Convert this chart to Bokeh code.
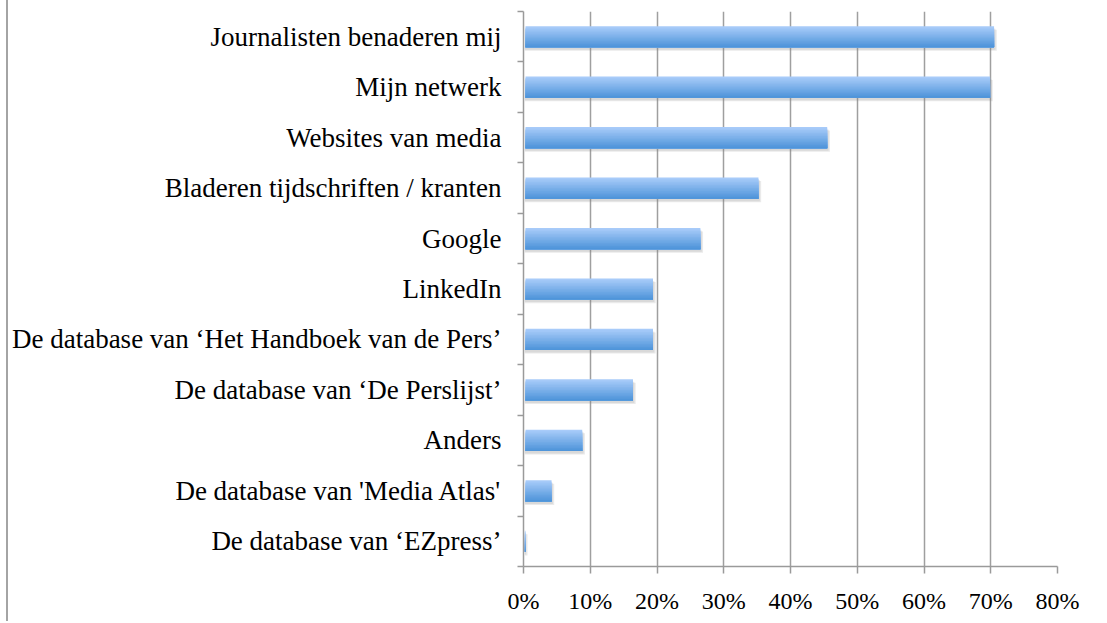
from bokeh.plotting import figure
from bokeh.models import ColumnDataSource, Range1d, FixedTicker, NumeralTickFormatter
from bokeh.embed import file_html
from bokeh.resources import INLINE

# Data (top to bottom as in the chart)
categories = [
    "Journalisten benaderen mij",
    "Mijn netwerk",
    "Websites van media",
    "Bladeren tijdschriften / kranten",
    "Google",
    "LinkedIn",
    "De database van \u2018Het Handboek van de Pers\u2019",
    "De database van \u2018De Perslijst\u2019",
    "Anders",
    "De database van 'Media Atlas'",
    "De database van \u2018EZpress\u2019",
]
values = [0.705, 0.699, 0.455, 0.352, 0.265, 0.194, 0.194, 0.164, 0.088, 0.042, 0.002]
x_ticks = [0, 0.1, 0.2, 0.3, 0.4, 0.5, 0.6, 0.7, 0.8]

n = len(categories)
ypos = [n - 1 - i + 0.5 for i in range(n)]
boundaries = list(range(n + 1))

FONT = "Liberation Serif"

p = figure(width=1090, height=621, output_backend="svg", toolbar_location=None,
           x_range=Range1d(0, 0.8), y_range=Range1d(0, n))
p.frame_width = 534
p.frame_height = 555
p.min_border_left = 514
p.min_border_right = 42
p.min_border_top = 11
p.min_border_bottom = 55
p.outline_line_color = None
p.background_fill_color = "white"
p.styles = {"margin-left": "6px", "border-left": "2px solid #a4a4a4"}

# Axes
p.xaxis.ticker = FixedTicker(ticks=x_ticks)
p.xaxis.formatter = NumeralTickFormatter(format="0%")
p.xaxis.axis_line_color = "#9a9a9a"
p.xaxis.axis_line_width = 1.5
p.xaxis.major_tick_line_color = "#9a9a9a"
p.xaxis.major_tick_line_width = 1.5
p.xaxis.major_tick_in = 0
p.xaxis.major_tick_out = 7
p.xaxis.minor_tick_line_color = None
p.xaxis.major_label_text_font = FONT
p.xaxis.major_label_text_font_size = "24px"
p.xaxis.major_label_text_color = "black"
p.xaxis.major_label_standoff = 14

p.yaxis.ticker = FixedTicker(ticks=ypos, minor_ticks=boundaries)
p.yaxis.major_label_overrides = {y: c for y, c in zip(ypos, categories)}
p.yaxis.axis_line_color = "#9a9a9a"
p.yaxis.axis_line_width = 1.5
p.yaxis.major_tick_line_color = None
p.yaxis.major_tick_in = 0
p.yaxis.major_tick_out = 0
p.yaxis.minor_tick_line_color = "#9a9a9a"
p.yaxis.minor_tick_line_width = 1.5
p.yaxis.minor_tick_in = 0
p.yaxis.minor_tick_out = 6
p.yaxis.major_label_text_font = FONT
p.yaxis.major_label_text_font_size = "27px"
p.yaxis.major_label_text_color = "black"
p.yaxis.major_label_standoff = 16

p.xgrid.ticker = FixedTicker(ticks=x_ticks)
p.xgrid.grid_line_color = "#9f9f9f"
p.xgrid.grid_line_width = 1.5
p.ygrid.grid_line_color = None

bar_h = 0.42

# drop shadow
shadow = ColumnDataSource(dict(y=[y - 0.07 for y in ypos], right=[v + 0.004 for v in values]))
p.hbar(y="y", left=0.002, right="right", height=bar_h, source=shadow,
       fill_color="#888888", fill_alpha=0.18, line_color=None)
shadow2 = ColumnDataSource(dict(y=[y - 0.05 for y in ypos], right=[v + 0.002 for v in values]))
p.hbar(y="y", left=0.002, right="right", height=bar_h, source=shadow2,
       fill_color="#777777", fill_alpha=0.15, line_color=None)

# gradient bars (top light -> bottom darker), nested layers covering the lower part
top = (168, 203, 249)
bot = (79, 149, 218)
slices = 14
for k in range(slices):
    t = k / (slices - 1)
    c = tuple(int(round(top[j] + (bot[j] - top[j]) * t)) for j in range(3))
    col = "#%02x%02x%02x" % c
    h = bar_h * (1 - k / slices)
    src = ColumnDataSource(dict(bottom=[y - bar_h / 2 for y in ypos],
                                topv=[y - bar_h / 2 + h for y in ypos],
                                right=values))
    p.quad(left=0.003, right="right", bottom="bottom", top="topv", source=src,
           fill_color=col, line_color=None)

open("out.html", "w").write(file_html(p, INLINE))
